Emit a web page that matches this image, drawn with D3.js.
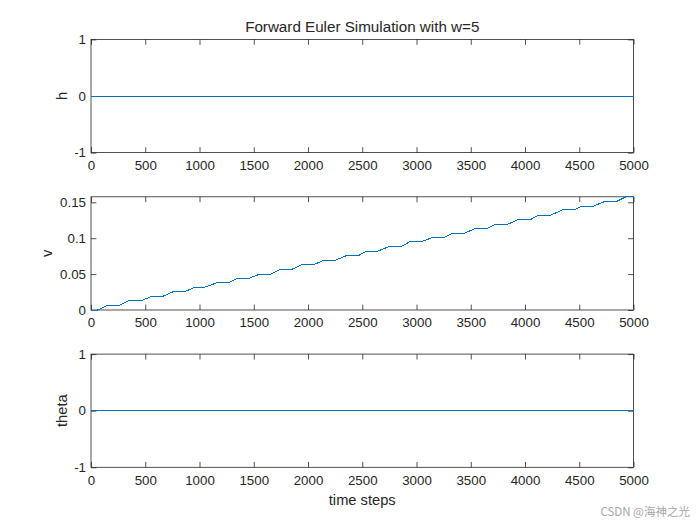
<!DOCTYPE html>
<html>
<head>
<meta charset="utf-8">
<script src="https://cdn.jsdelivr.net/npm/d3@7"></script>
<style>
  body { margin: 0; background: #fff; }
  text { font-family: "Liberation Sans", Arial, sans-serif; fill: #262626; }
</style>
</head>
<body>
<div id="chart"></div>
<script>

// tick values
var xTicks     = [0, 500, 1000, 1500, 2000, 2500, 3000, 3500, 4000, 4500, 5000]
var hTicks     = [-1, 0, 1]
var vTicks     = [0, 0.05, 0.1, 0.15]
var thetaTicks = [-1, 0, 1]

// h and theta stay at zero for the whole run
var hSteps      = [0, 5000]
var hValues     = [0, 0]
var thetaSteps  = [0, 5000]
var thetaValues = [0, 0]

// v: flat stretches of the staircase (start step, end step, level)
var vPlateauStart = [0, 140, 345, 550, 760, 945, 1160, 1340, 1555, 1740, 1945, 2135, 2355,
                     2535, 2750, 2935, 3150, 3330, 3545, 3730, 3945, 4125, 4345, 4525, 4745, 4930]
var vPlateauEnd   = [60, 250, 455, 650, 865, 1030, 1265, 1445, 1660, 1845, 2055, 2245, 2465,
                     2640, 2860, 3040, 3255, 3440, 3655, 3840, 4055, 4235, 4455, 4630, 4850, 5000]
var vPlateauLevel = [0, 0.0056, 0.0126, 0.0183, 0.0257, 0.0309, 0.0379, 0.0435, 0.0500, 0.0562,
                     0.0632, 0.0688, 0.0758, 0.0819, 0.0885, 0.0949, 0.1011, 0.1067, 0.1138,
                     0.1194, 0.1264, 0.1320, 0.1395, 0.1447, 0.1517, 0.1577]

var W = 700, H = 525
var left = 91, right = 633.5, axH = 113.2
var tickLen = 5.4

var svg = d3.select("#chart").append("svg")
  .attr("width", W).attr("height", H)

var x = d3.scaleLinear().domain([0, 5000]).range([left, right])

function make_panel(top, yDomain, yTicks, yFmt, label, labelX, points) {
  var y = d3.scaleLinear().domain(yDomain).range([top + axH, top])
  var g = svg.append("g")

  // box
  g.append("rect")
    .attr("x", left).attr("y", top)
    .attr("width", right - left).attr("height", axH)
    .attr("fill", "#fff").attr("stroke", "#262626").attr("stroke-width", 0.8)

  g.append("g").attr("transform", "translate(0," + (top + axH) + ")")
    .call(d3.axisBottom(x).tickValues(xTicks).tickSizeInner(-tickLen).tickSizeOuter(0)
      .tickPadding(8).tickFormat(d3.format("d")))
  g.append("g").attr("transform", "translate(0," + top + ")")
    .call(d3.axisTop(x).tickValues(xTicks).tickSizeInner(-tickLen).tickSizeOuter(0).tickFormat(""))
  g.append("g").attr("transform", "translate(" + left + ",0)")
    .call(d3.axisLeft(y).tickValues(yTicks).tickSizeInner(-tickLen).tickSizeOuter(0).tickPadding(5).tickFormat(yFmt))
  g.append("g").attr("transform", "translate(" + right + ",0)")
    .call(d3.axisRight(y).tickValues(yTicks).tickSizeInner(-tickLen).tickSizeOuter(0).tickFormat(""))

  g.selectAll(".domain").remove()
  g.selectAll(".tick line").attr("stroke", "#262626").attr("stroke-width", 0.8)
  g.selectAll(".tick text").style("font-size", "13.3px").attr("fill", "#262626")
    .style("font-family", "'Liberation Sans', Arial, sans-serif")

  var line = d3.line().x(function(d) { return x(d[0]) }).y(function(d) { return y(d[1]) })
  g.append("path").datum(points)
    .attr("d", line)
    .attr("fill", "none")
    .attr("stroke", "#0072BD")
    .attr("stroke-width", 1)
    .attr("shape-rendering", "crispEdges")

  g.append("text")
    .attr("transform", "translate(" + labelX + "," + (top + axH / 2) + ") rotate(-90)")
    .attr("text-anchor", "middle")
    .style("font-size", "14.7px")
    .text(label)
}

var fmt = function(d) { return String(+d.toFixed(4)) }

var hPts = hSteps.map(function(s, i) { return [s, hValues[i]] })
var thetaPts = thetaSteps.map(function(s, i) { return [s, thetaValues[i]] })
var vPts = []
for (var i = 0; i < vPlateauLevel.length; i++) {
  vPts.push([vPlateauStart[i], vPlateauLevel[i]])
  vPts.push([vPlateauEnd[i], vPlateauLevel[i]])
}

make_panel(39.4, [-1, 1], hTicks, fmt, "h", 67, hPts)
make_panel(196.8, [0, 0.1577], vTicks, fmt, "v", 52, vPts)
make_panel(354.1, [-1, 1], thetaTicks, fmt, "theta", 67, thetaPts)

svg.append("text")
  .attr("x", (left + right) / 2).attr("y", 32)
  .attr("text-anchor", "middle")
  .style("font-size", "15.2px")
  .text("Forward Euler Simulation with w=5")

svg.append("text")
  .attr("x", (left + right) / 2).attr("y", 505)
  .attr("text-anchor", "middle")
  .style("font-size", "14.7px")
  .text("time steps")

svg.append("text")
  .attr("x", 690).attr("y", 516)
  .attr("text-anchor", "end")
  .style("font-size", "11.5px")
  .style("font-family", "'Noto Sans CJK SC', 'Liberation Sans', sans-serif")
  .style("fill", "#a6a6a6")
  .text("CSDN @海神之光")

</script>
</body>
</html>
